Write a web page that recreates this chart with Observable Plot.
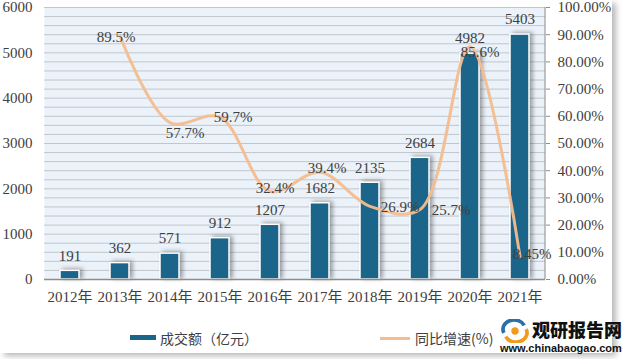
<!DOCTYPE html>
<html><head><meta charset="utf-8">
<script src="https://cdn.jsdelivr.net/npm/d3@7"></script>
<script src="https://cdn.jsdelivr.net/npm/@observablehq/plot@0.6"></script>
<style>
html,body{margin:0;padding:0;background:#fff;}
#wrap{position:relative;width:626px;height:359px;overflow:hidden;background:#fff;}
#card{position:absolute;left:0;top:0;width:612px;height:353px;background:#fff;box-shadow:4px 3px 6px rgba(0,0,0,0.28);}
#chart{position:absolute;left:0;top:0;}
g[aria-label="bar"] rect{filter:drop-shadow(3px -1px 2px rgba(0,0,0,0.35));}
.leg{position:absolute;font-family:"Noto Sans CJK SC",sans-serif;font-size:14px;line-height:20px;color:#404040;}
.wm1{position:absolute;left:532px;top:318px;font-family:"Noto Sans CJK SC",sans-serif;font-weight:900;font-size:18px;line-height:22px;color:#111;}
.wm2{position:absolute;left:500px;top:342px;font-family:"Liberation Sans",sans-serif;font-weight:bold;font-size:11px;line-height:13px;color:#111;}
</style></head>
<body>
<div id="wrap">
<div id="card"></div>
<div id="chart"></div>
<div style="position:absolute;left:130px;top:335px;width:26px;height:5px;background:#1A6589"></div>
<div class="leg" style="left:160px;top:328px">成交额（亿元）</div>
<div style="position:absolute;left:380px;top:337px;width:30px;height:3px;background:#F6BC8E"></div>
<div class="leg" style="left:415px;top:328px">同比增速(%)</div>
<svg style="position:absolute;left:499px;top:319px" width="32" height="24" viewBox="0 0 32 26">
<path d="M4 15 A12 10 0 0 1 26 7" fill="none" stroke="#2a6fa8" stroke-width="4"/>
<path d="M28 11 A12 10 0 0 1 6 19" fill="none" stroke="#f29a1f" stroke-width="4"/>
<circle cx="16" cy="13" r="4" fill="#f29a1f"/>
</svg>
<div class="wm1">观研报告网</div>
<div class="wm2">www.chinabaogao.com</div>
</div>
<script>
const years = ["2012年","2013年","2014年","2015年","2016年","2017年","2018年","2019年","2020年","2021年"];
const volume = [191,362,571,912,1207,1682,2135,2684,4982,5403];
const growthYears = ["2013年","2014年","2015年","2016年","2017年","2018年","2019年","2020年","2021年"];
const growth = [89.5,57.7,59.7,32.4,39.4,26.9,25.7,85.6,8.45];
const growthLabels = ["89.5%","57.7%","59.7%","32.4%","39.4%","26.9%","25.7%","85.6%","8.45%"];
const leftTicks = [0,1000,2000,3000,4000,5000,6000];
const rightTicks = [0,10,20,30,40,50,60,70,80,90,100];
const gridStep = 200;

const bars = years.map((y,i)=>({year:y, value:volume[i]}));
const pct = growthYears.map((y,i)=>({year:y, g:growth[i], label:growthLabels[i]}));
const scaleR = 6000/100;
const grid = d3.range(gridStep, 6001, gridStep);

// label placement offsets from each point
const lblGroup = {"2013年":[-4,1],"2014年":[15,11],"2015年":[13,0],"2016年":[5,-3],"2017年":[7,-4],"2018年":[30,1],"2019年":[31,1],"2020年":[10,6],"2021年":[12,-2]};
const labelMarks = pct.map(d => Plot.text([d], {x:"year", y: v=>v.g*scaleR, text:"label", dx:lblGroup[d.year][0], dy:lblGroup[d.year][1], fill:"#404040"}));

const chart = Plot.plot({
  width: 626, height: 310,
  marginLeft: 44, marginRight: 81, marginTop: 7, marginBottom: 31,
  style: {fontFamily: "'Liberation Serif','Noto Sans CJK SC',serif", fontSize: "15px", color: "#404040", background: "transparent", overflow: "visible"},
  x: {domain: years, paddingInner: 0.62, paddingOuter: 0.31, label: null},
  y: {domain: [0, 6000], label: null},
  marks: [
    Plot.frame({fill: "#EBF2F9", stroke: null}),
    Plot.ruleY(grid, {stroke: "#c2c6cb", strokeWidth: 1}),
    Plot.axisY({ticks: leftTicks, tickFormat: d => String(d), tickSize: 0, tickPadding: 12, anchor: "left", label: null}),
    Plot.axisY({ticks: rightTicks.map(v=>v*scaleR), tickFormat: d => (d/scaleR).toFixed(2)+"%", anchor: "right", tickSize: 4, tickPadding: 8, stroke: "#8c8c8c", label: null}),
    Plot.axisX({tickSize: 0, tickPadding: 12, label: null}),
    Plot.barY(bars, {x: "year", y: "value", fill: "#1A6589", stroke: "white", strokeWidth: 1.5}),
    Plot.ruleY([0], {stroke: "#8c8c8c", strokeWidth: 1.5}),
    Plot.ruleX([years[years.length-1]], {dx: 25, stroke: "#8c8c8c", strokeWidth: 1}),
    Plot.line(pct, {x: "year", y: d => d.g*scaleR, curve: "catmull-rom", stroke: "#F6BC8E", strokeWidth: 3, strokeOpacity: 0.95}),
    Plot.text(bars, {x: "year", y: "value", text: d => String(d.value), dy: -15, fill: "#404040"}),
    ...labelMarks
  ]
});
document.getElementById("chart").appendChild(chart);
</script>
</body></html>
